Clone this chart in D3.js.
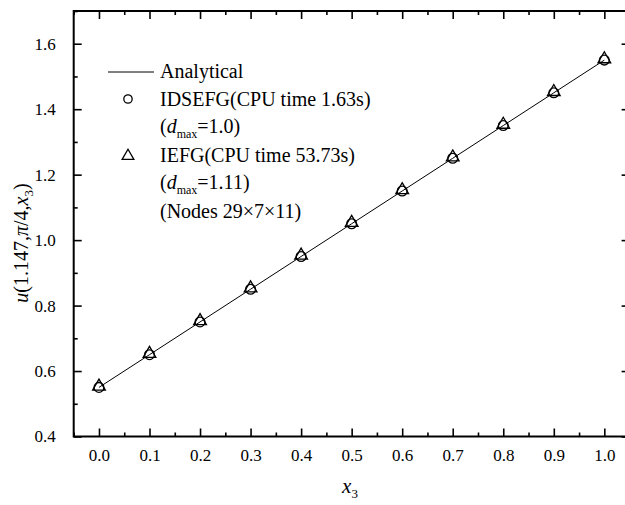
<!DOCTYPE html>
<html><head><meta charset="utf-8">
<script src="https://cdn.jsdelivr.net/npm/d3@7"></script>
<style>
body{margin:0;background:#fff;}
</style></head>
<body><svg id="c" width="625" height="505" font-family="Liberation Serif"></svg>
<script>
const xValues = [0.0,0.1,0.2,0.3,0.4,0.5,0.6,0.7,0.8,0.9,1.0];
const analytical = [0.55,0.65,0.75,0.85,0.95,1.05,1.15,1.25,1.35,1.45,1.55];
const idsefg = [0.55,0.65,0.75,0.85,0.95,1.05,1.15,1.25,1.35,1.45,1.55];
const iefg = [0.55,0.65,0.75,0.85,0.95,1.05,1.15,1.25,1.35,1.45,1.55];
const xTicks = [0.0,0.1,0.2,0.3,0.4,0.5,0.6,0.7,0.8,0.9,1.0];
const yTicks = [0.4,0.6,0.8,1.0,1.2,1.4,1.6];

const FONT = "Liberation Serif";
const svg = d3.select("#c");
const x = d3.scaleLinear().domain([-0.05,1.05]).range([73.7,629.6]);
const y = d3.scaleLinear().domain([0.4,1.7]).range([436.5,11]);

const g = svg.append("g");
const fmt = d3.format(".1f");
const xMinor = d3.range(-0.05,1.06,0.1).map(v=>+v.toFixed(2));
const yMinor = d3.range(0.5,1.71,0.2).map(v=>+v.toFixed(2));

function styleAxis(sel){
  sel.attr("font-family",FONT).attr("font-size",17);
  sel.select(".domain").remove();
  sel.selectAll(".tick line").attr("stroke","#000").attr("stroke-width",1.6);
  sel.selectAll("text").attr("fill","#000");
}
// bottom
g.append("g").attr("transform",`translate(0,${y(0.4)})`)
 .call(d3.axisBottom(x).tickValues(xTicks).tickSizeInner(-8).tickSizeOuter(0).tickPadding(12).tickFormat(fmt))
 .call(styleAxis);
g.append("g").attr("transform",`translate(0,${y(0.4)})`)
 .call(d3.axisBottom(x).tickValues(xMinor).tickSizeInner(-4).tickSizeOuter(0).tickFormat(""))
 .call(styleAxis);
// top
g.append("g").attr("transform",`translate(0,${y(1.7)})`)
 .call(d3.axisTop(x).tickValues(xTicks).tickSizeInner(-8).tickSizeOuter(0).tickFormat(""))
 .call(styleAxis);
g.append("g").attr("transform",`translate(0,${y(1.7)})`)
 .call(d3.axisTop(x).tickValues(xMinor).tickSizeInner(-4).tickSizeOuter(0).tickFormat(""))
 .call(styleAxis);
// left
g.append("g").attr("transform",`translate(${x(-0.05)},0)`)
 .call(d3.axisLeft(y).tickValues(yTicks).tickSizeInner(-8).tickSizeOuter(0).tickPadding(18).tickFormat(fmt))
 .call(styleAxis);
g.append("g").attr("transform",`translate(${x(-0.05)},0)`)
 .call(d3.axisLeft(y).tickValues(yMinor).tickSizeInner(-4).tickSizeOuter(0).tickFormat(""))
 .call(styleAxis);
// right
g.append("g").attr("transform",`translate(${x(1.05)},0)`)
 .call(d3.axisRight(y).tickValues(yTicks).tickSizeInner(-8).tickSizeOuter(0).tickFormat(""))
 .call(styleAxis);
g.append("g").attr("transform",`translate(${x(1.05)},0)`)
 .call(d3.axisRight(y).tickValues(yMinor).tickSizeInner(-4).tickSizeOuter(0).tickFormat(""))
 .call(styleAxis);
// frame
g.append("rect").attr("x",x(-0.05)).attr("y",y(1.7)).attr("width",x(1.05)-x(-0.05)).attr("height",y(0.4)-y(1.7))
 .attr("fill","none").attr("stroke","#000").attr("stroke-width",2);

// analytical line
const line = d3.line().x((d,i)=>x(xValues[i])).y(d=>y(d));
g.append("path").datum(analytical).attr("d",line).attr("fill","none").attr("stroke","#000").attr("stroke-width",1);

// markers
const circ = d3.symbol().type(d3.symbolCircle).size(75);
const tri = d3.symbol().type(d3.symbolTriangle).size(70);
g.selectAll(".c").data(idsefg).join("path").attr("d",circ)
 .attr("transform",(d,i)=>`translate(${x(xValues[i])},${y(d)})`)
 .attr("fill","none").attr("stroke","#000").attr("stroke-width",1.3);
g.selectAll(".t").data(iefg).join("path").attr("d",tri)
 .attr("transform",(d,i)=>`translate(${x(xValues[i])},${y(d)-1})`)
 .attr("fill","none").attr("stroke","#000").attr("stroke-width",1.3);

// legend
const L = svg.append("g").attr("font-family",FONT);
const fs = 20, tx = 160;
L.append("line").attr("x1",108).attr("x2",154).attr("y1",72).attr("y2",72).attr("stroke","#000").attr("stroke-width",1);
L.append("text").attr("x",tx).attr("y",78).attr("font-size",fs).text("Analytical");
L.append("path").attr("d",d3.symbol().type(d3.symbolCircle).size(55)).attr("transform","translate(128,99)")
 .attr("fill","none").attr("stroke","#000").attr("stroke-width",1.3);
L.append("text").attr("x",tx).attr("y",106).attr("font-size",fs).text("IDSEFG(CPU time 1.63s)");
function dmax(yy,val){
  const t = L.append("text").attr("x",tx).attr("y",yy).attr("font-size",fs);
  t.append("tspan").text("(");
  t.append("tspan").attr("font-style","italic").text("d");
  t.append("tspan").attr("font-size",12).attr("dy",5).text("max");
  t.append("tspan").attr("dy",-5).text("="+val+")");
}
dmax(133,"1.0");
L.append("path").attr("d",d3.symbol().type(d3.symbolTriangle).size(60)).attr("transform","translate(128,156)")
 .attr("fill","none").attr("stroke","#000").attr("stroke-width",1.3);
L.append("text").attr("x",tx).attr("y",162).attr("font-size",fs).text("IEFG(CPU time 53.73s)");
dmax(189,"1.11");
L.append("text").attr("x",tx).attr("y",218).attr("font-size",fs).text("(Nodes 29\u00d77\u00d711)");

// axis titles
const xt = svg.append("text").attr("x",350).attr("y",493).attr("font-size",21).attr("text-anchor","middle").attr("font-family",FONT);
xt.append("tspan").attr("font-style","italic").text("x");
xt.append("tspan").attr("font-size",13).attr("dy",5).text("3");

const yt = svg.append("text").attr("transform","translate(28,243) rotate(-90)").attr("font-size",20).attr("text-anchor","middle").attr("font-family",FONT);
yt.append("tspan").attr("font-style","italic").text("u");
yt.append("tspan").text("(1.147,");
yt.append("tspan").attr("font-style","italic").text("\u03c0");
yt.append("tspan").text("/4,");
yt.append("tspan").attr("font-style","italic").text("x");
yt.append("tspan").attr("font-size",13).attr("dy",5).text("3");
yt.append("tspan").attr("dy",-5).text(")");
</script></body></html>
